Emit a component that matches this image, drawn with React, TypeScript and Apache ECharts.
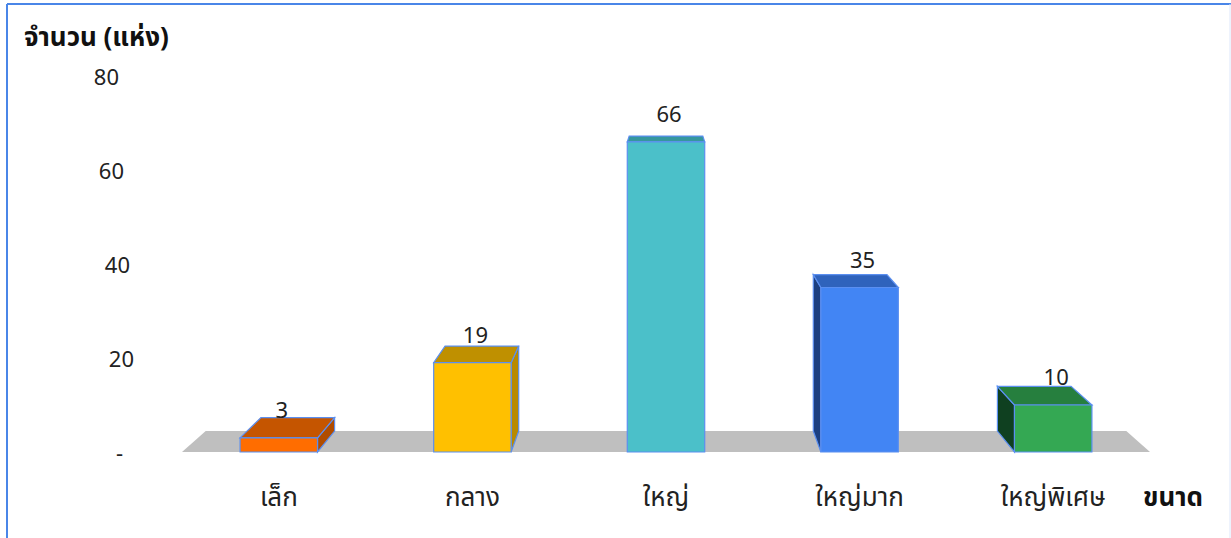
import React, { useEffect, useRef } from "react";
import * as echarts from "echarts";

const categories = ["เล็ก", "กลาง", "ใหญ่", "ใหญ่มาก", "ใหญ่พิเศษ"];
const values = [3, 19, 66, 35, 10];
const yTicks = [0, 20, 40, 60, 80];
const frontColors = ["#FF6D00", "#FFC000", "#4BC0C9", "#4285F4", "#34A853"];
const topColors = ["#C55500", "#BF9000", "#35979E", "#2F63BC", "#267F3E"];
const sideColors = ["#B04C00", "#B88A00", "#2F8A90", "#1C3F80", "#0F4020"];

const FONT = "'Noto Sans', 'Noto Sans Thai', 'DejaVu Sans', sans-serif";
const DEPTH = 0.049;
const VANISH_Y = 24;
const labelPad: Record<number, number> = { 80: 15, 60: 10, 40: 4, 20: 0, 0: 11 };

export default function App() {
  const ref = useRef<HTMLDivElement>(null);
  useEffect(() => {
    if (!ref.current) return;
    const chart = echarts.init(ref.current, null, { renderer: "svg" });
    const back = (p: number[], vx: number) => [
      p[0] + (vx - p[0]) * DEPTH,
      p[1] + (VANISH_Y - p[1]) * DEPTH,
    ];
    const rich: any = {};
    yTicks.forEach((t) => {
      rich["p" + t] = { fontSize: 22, color: "#222", fontFamily: FONT, padding: [0, labelPad[t], 0, 0] };
    });
    chart.setOption({
      animation: false,
      title: {
        text: "จำนวน (แห่ง)",
        left: 19,
        top: 18,
        textStyle: { fontSize: 26, fontWeight: "bold", color: "#111", fontFamily: FONT },
      },
      grid: { left: 182, right: 81, top: 76, bottom: 86 },
      xAxis: {
        type: "category",
        data: categories,
        name: "ขนาด",
        nameLocation: "end",
        nameGap: -7,
        nameTextStyle: {
          fontSize: 26,
          fontWeight: "bold",
          color: "#111",
          fontFamily: FONT,
          align: "left",
          verticalAlign: "top",
          padding: [31, 0, 0, 0],
        },
        axisLine: { show: false },
        axisTick: { show: false },
        axisLabel: { fontSize: 26, color: "#222", fontFamily: FONT, margin: 31 },
      },
      yAxis: {
        type: "value",
        min: 0,
        max: 80,
        interval: 20,
        axisLine: { show: false },
        axisTick: { show: false },
        splitLine: { show: false },
        axisLabel: {
          margin: 48,
          formatter: (v: number) => `{p${v}|${v === 0 ? "-" : v}}`,
          rich,
        },
      },
      graphic: [
        { type: "line", shape: { x1: 7, y1: 4, x2: 1231, y2: 4 }, style: { stroke: "#4A86E8", lineWidth: 2 }, z: 10 },
        { type: "line", shape: { x1: 7, y1: 4, x2: 7, y2: 538 }, style: { stroke: "#4A86E8", lineWidth: 2 }, z: 10 },
        { type: "line", shape: { x1: 1230, y1: 4, x2: 1230, y2: 538 }, style: { stroke: "#DCE7FB", lineWidth: 1 }, z: 10 },
      ],
      series: [
        {
          type: "custom",
          name: "floor",
          z: 1,
          data: [[0, 0]],
          silent: true,
          renderItem: (params: any, api: any) => {
            const cs = params.coordSys;
            const vx = cs.x + cs.width / 2;
            const base = api.coord([0, 0]);
            const y = base[1];
            const a = [cs.x, y];
            const b = [cs.x + cs.width, y];
            return {
              type: "polygon",
              shape: { points: [a, b, back(b, vx), back(a, vx)] },
              style: { fill: "#BFBFBF" },
            };
          },
        },
        {
          type: "custom",
          name: "จำนวน",
          z: 2,
          data: values.map((v, i) => [i, v]),
          renderItem: (params: any, api: any) => {
            const cs = params.coordSys;
            const vx = cs.x + cs.width / 2;
            const i = api.value(0);
            const v = api.value(1);
            const base = api.coord([i, 0]);
            const top = api.coord([i, v]);
            const bw = api.size([1, 0])[0] * 0.4;
            const xl = base[0] - bw / 2;
            const xr = base[0] + bw / 2;
            const yb = base[1];
            const yt = top[1];
            const tl = [xl, yt], tr = [xr, yt], br = [xr, yb], bl = [xl, yb];
            const btl = back(tl, vx), btr = back(tr, vx), bbr = back(br, vx), bbl = back(bl, vx);
            const stroke = { stroke: "#5B8FF0", lineWidth: 1.2 };
            const children: any[] = [];
            if (btr[0] > xr + 0.5) {
              children.push({
                type: "polygon",
                shape: { points: [tr, btr, bbr, br] },
                style: { fill: sideColors[i], ...stroke },
              });
            }
            if (btl[0] < xl - 0.5) {
              children.push({
                type: "polygon",
                shape: { points: [tl, btl, bbl, bl] },
                style: { fill: sideColors[i], ...stroke },
              });
            }
            children.push({
              type: "polygon",
              shape: { points: [tl, tr, btr, btl] },
              style: { fill: topColors[i], ...stroke },
            });
            children.push({
              type: "polygon",
              shape: { points: [tl, tr, br, bl] },
              style: { fill: frontColors[i], ...stroke },
            });
            children.push({
              type: "text",
              x: base[0] + 3,
              y: yt - 29,
              style: {
                text: String(v),
                fontSize: 22,
                fontFamily: FONT,
                fill: "#222",
                align: "center",
                verticalAlign: "middle",
              },
            });
            return { type: "group", children };
          },
        },
      ],
    });
    return () => chart.dispose();
  }, []);
  return (
    <div
      ref={ref}
      style={{ position: "fixed", left: 0, top: 0, width: 1231, height: 538, background: "#fff" }}
    />
  );
}
